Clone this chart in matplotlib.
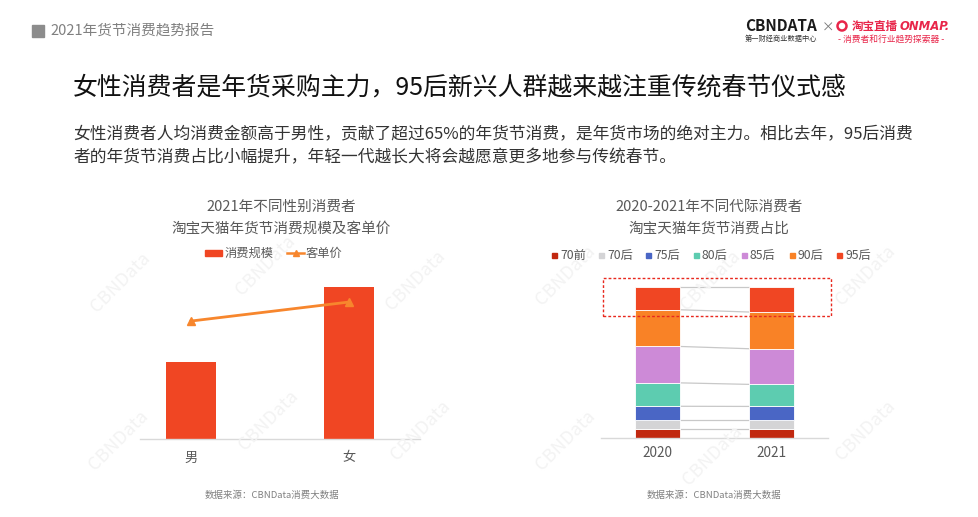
import matplotlib
matplotlib.use("Agg")
import matplotlib.pyplot as plt
from matplotlib.patches import Rectangle, Ellipse
from matplotlib.lines import Line2D

plt.rcParams['font.family'] = ['Noto Sans CJK SC', 'DejaVu Sans']

# ── Data ──────────────────────────────────────────────────────────────────────
genders = ["男", "女"]
scale_index = [50.7, 100.0]        # 消费规模 (relative)
price_index = [77.6, 90.1]         # 客单价 (relative)

years = ["2020", "2021"]
generations = ["70前", "70后", "75后", "80后", "85后", "90后", "95后"]
share_2020 = [5.7, 6.2, 9.1, 15.5, 24.1, 24.3, 15.1]
share_2021 = [5.7, 6.2, 9.0, 14.6, 23.6, 24.3, 16.6]
gen_colors = ["#C1280F", "#D4D4D6", "#4A66C5", "#5DCCB0", "#CD8AD7", "#F98226", "#F04623"]

BAR_RED = "#F04623"
LINE_ORANGE = "#F7862D"
GRAY_TXT = "#595959"

W, H = 979, 517
fig = plt.figure(figsize=(W / 100, H / 100), dpi=100)
fig.patch.set_facecolor("white")


def fx(x):
    return x / W


def fy(y):
    return 1 - y / H


def ftxt(x, y, s, **kw):
    kw.setdefault("va", "center")
    fig.text(fx(x), fy(y), s, **kw)


# ── Watermarks ────────────────────────────────────────────────────────────────
for (x, y) in [(120, 282), (265, 265), (415, 280), (565, 275), (710, 280), (865, 275),
               (118, 440), (268, 420), (420, 430), (565, 440), (712, 455), (865, 430)]:
    ftxt(x, y, "CBNData", fontsize=13, color="#f3f3f3", rotation=45,
         ha="center", zorder=0)

# ── Header ────────────────────────────────────────────────────────────────────
fig.add_artist(Rectangle((fx(32), fy(37)), fx(12), 12 / H,
                         transform=fig.transFigure, color="#8c8c8c"))
ftxt(50, 31, "2021年货节消费趋势报告", fontsize=10.5, color="#808080")

# logos
ftxt(745, 26, "CBNDATA", fontsize=11, fontweight="bold", color="#1a1a1a")
ftxt(745, 39, "第一财经商业数据中心", fontsize=5.2, color="#333333")
ftxt(822, 28, "×", fontsize=9, color="#777777")
fig.add_artist(Ellipse((fx(842), fy(26)), 9 / W, 9 / H, transform=fig.transFigure,
                       fill=False, edgecolor="#E8264A", linewidth=1.8))
ftxt(852, 26, "淘宝直播", fontsize=8.3, fontweight="bold", color="#E8264A")
ftxt(900, 26, "ONMAP.", fontsize=8.4, fontweight="bold", fontstyle="italic",
     color="#E8264A", family=["DejaVu Sans"])
ftxt(838, 39, "- 消费者和行业趋势探索器 -", fontsize=6.3, color="#E8264A")

# ── Title & description ───────────────────────────────────────────────────────
ftxt(73, 87, "女性消费者是年货采购主力，95后新兴人群越来越注重传统春节仪式感",
     fontsize=17.9, color="#111111")
ftxt(73, 135, "女性消费者人均消费金额高于男性，贡献了超过65%的年货节消费，是年货市场的绝对主力。相比去年，95后消费",
     fontsize=12.05, color="#333333")
ftxt(73, 158, "者的年货节消费占比小幅提升，年轻一代越长大将会越愿意更多地参与传统春节。",
     fontsize=12.05, color="#333333")

# ── Left chart: gender ───────────────────────────────────────────────────────
ax1 = fig.add_axes([fx(140), fy(439), (420 - 140) / W, (439 - 280) / H])
xs = list(range(len(genders)))
ax1.bar(xs, scale_index, width=0.316, color=BAR_RED, zorder=2)
ax1.plot(xs, price_index, color=LINE_ORANGE, lw=2, marker="^", ms=6,
         markerfacecolor=LINE_ORANGE, markeredgecolor=LINE_ORANGE, zorder=3)
ax1.set_xlim(-0.323, 1.45)
ax1.set_ylim(0, 104.6)
ax1.set_yticks([])
ax1.set_xticks(xs)
ax1.set_xticklabels(genders, fontsize=9.5, color=GRAY_TXT)
ax1.tick_params(axis="x", length=0, pad=9)
for s in ["top", "right", "left"]:
    ax1.spines[s].set_visible(False)
ax1.spines["bottom"].set_color("#d9d9d9")
ax1.spines["bottom"].set_linewidth(1)
ax1.patch.set_alpha(0)

ftxt(281, 207, "2021年不同性别消费者", fontsize=10.5, color=GRAY_TXT, ha="center")
ftxt(281, 229, "淘宝天猫年货节消费规模及客单价", fontsize=10.5, color=GRAY_TXT, ha="center")
# legend
fig.add_artist(Rectangle((fx(205), fy(256)), 17 / W, 6 / H,
                         transform=fig.transFigure, color=BAR_RED))
ftxt(225, 253, "消费规模", fontsize=8.8, color=GRAY_TXT)
fig.add_artist(Line2D([fx(287), fx(304)], [fy(253), fy(253)], transform=fig.transFigure,
                      color=LINE_ORANGE, lw=1.8))
fig.add_artist(Line2D([fx(295.5)], [fy(253)], transform=fig.transFigure,
                      color=LINE_ORANGE, marker="^", ms=5, lw=0))
ftxt(306, 253, "客单价", fontsize=8.8, color=GRAY_TXT)
ftxt(272, 495, "数据来源：CBNData消费大数据", fontsize=6.8, color="#808080", ha="center")

# ── Right chart: generations ─────────────────────────────────────────────────
ax2 = fig.add_axes([fx(601), fy(438), (828 - 601) / W, (438 - 280) / H])
bw = 0.395
xs2 = list(range(len(years)))
shares = [share_2020, share_2021]
bottoms = [0.0, 0.0]
cums = [[], []]
for gi, (gen, col) in enumerate(zip(generations, gen_colors)):
    vals = [shares[0][gi], shares[1][gi]]
    ax2.bar(xs2, vals, width=bw, bottom=bottoms, color=col,
            edgecolor="white", linewidth=0.6, zorder=2)
    bottoms = [bottoms[0] + vals[0], bottoms[1] + vals[1]]
    cums[0].append(bottoms[0])
    cums[1].append(bottoms[1])
# connector lines
for c0, c1 in zip(cums[0], cums[1]):
    ax2.plot([bw / 2, 1 - bw / 2], [c0, c1], color="#c8c8c8", lw=0.9, zorder=1)
ax2.set_xlim(-0.496, 1.496)
ax2.set_ylim(0, 104.6)
ax2.set_yticks([])
ax2.set_xticks(xs2)
ax2.set_xticklabels(years, fontsize=9.8, color=GRAY_TXT)
ax2.tick_params(axis="x", length=0, pad=6)
for s in ["top", "right", "left"]:
    ax2.spines[s].set_visible(False)
ax2.spines["bottom"].set_color("#d9d9d9")
ax2.spines["bottom"].set_linewidth(1)
ax2.patch.set_alpha(0)

# highlight box around 95后
fig.add_artist(Rectangle((fx(603), fy(316)), (831 - 603) / W, (316 - 278) / H,
                         transform=fig.transFigure, fill=False,
                         edgecolor="#E8281E", linestyle=(0, (2, 1.5)), linewidth=1))

ftxt(709, 207, "2020-2021年不同代际消费者", fontsize=10.5, color=GRAY_TXT, ha="center")
ftxt(709, 229, "淘宝天猫年货节消费占比", fontsize=10.5, color=GRAY_TXT, ha="center")
leg_x = [552, 599, 646, 694, 742, 790, 837]
for lx, gen, col in zip(leg_x, generations, gen_colors):
    fig.add_artist(Rectangle((fx(lx), fy(258)), 5 / W, 5 / H,
                             transform=fig.transFigure, color=col))
    ftxt(lx + 8, 255, gen, fontsize=8.8, color=GRAY_TXT)
ftxt(714, 495, "数据来源：CBNData消费大数据", fontsize=6.8, color="#808080", ha="center")

fig.savefig("out.png", dpi=100, facecolor="white")
